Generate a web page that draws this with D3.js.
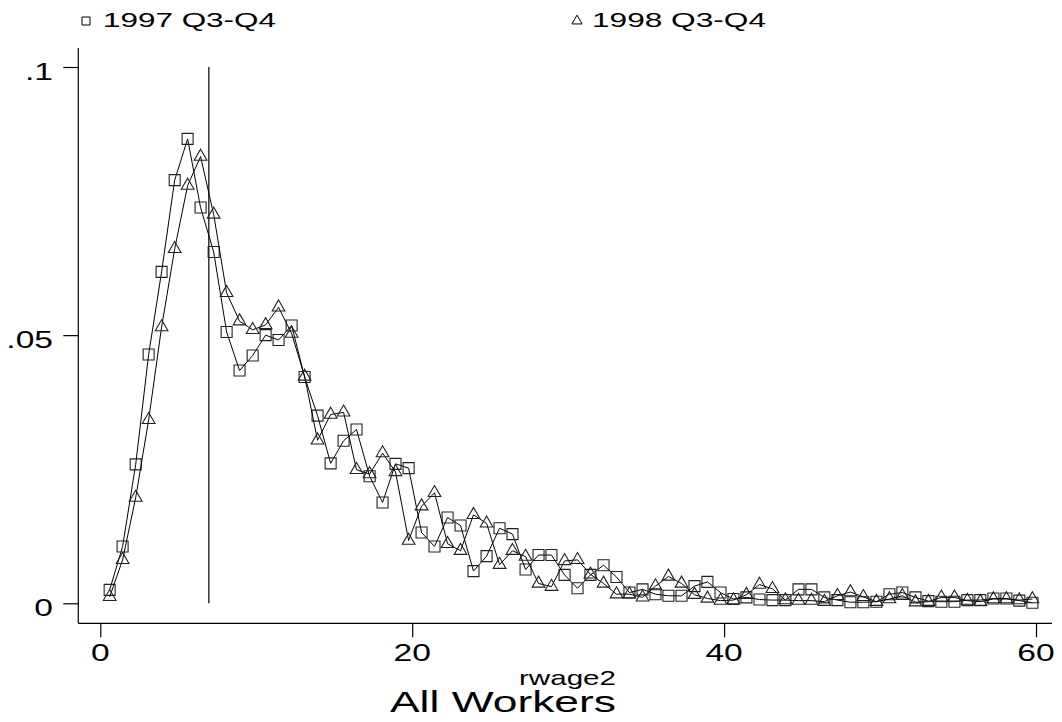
<!DOCTYPE html>
<html><head><meta charset="utf-8">
<script src="https://cdn.jsdelivr.net/npm/d3@7/dist/d3.min.js"></script>
<style>
html,body{margin:0;padding:0;background:#fff;}
svg{display:block;font-family:"Liberation Sans",Arial,sans-serif;}
</style></head>
<body>
<svg id="chart" width="1062" height="722"></svg>
<script>
const seriesNames = ["1997 Q3-Q4", "1998 Q3-Q4"];
const xValues = [0.60,1.43,2.27,3.10,3.93,4.77,5.60,6.43,7.27,8.10,8.93,9.77,
10.60,11.43,12.27,13.10,13.93,14.77,15.60,16.43,17.27,18.10,18.93,19.77,
20.60,21.43,22.27,23.10,23.93,24.77,25.60,26.43,27.27,28.10,28.93,29.77,
30.60,31.43,32.27,33.10,33.93,34.77,35.60,36.43,37.27,38.10,38.93,39.77,
40.60,41.43,42.27,43.10,43.93,44.77,45.60,46.43,47.27,48.10,48.93,49.77,
50.60,51.43,52.27,53.10,53.93,54.77,55.60,56.43,57.27,58.10,58.93,59.77];
const y1997 = [0.0025,0.0106,0.0259,0.0464,0.0618,0.0789,0.0866,0.0738,0.0655,0.0506,0.0434,0.0462,
0.0500,0.0491,0.0518,0.0422,0.0350,0.0261,0.0303,0.0324,0.0237,0.0188,0.0260,0.0252,
0.0132,0.0106,0.0160,0.0145,0.0060,0.0088,0.0140,0.0129,0.0063,0.0090,0.0090,0.0053,
0.0028,0.0053,0.0071,0.0049,0.0020,0.0026,0.0017,0.0014,0.0014,0.0032,0.0040,0.0020,
0.0008,0.0011,0.0007,0.0006,0.0006,0.0026,0.0026,0.0011,0.0006,0.0002,0.0002,0.0003,
0.0017,0.0020,0.0011,0.0004,0.0003,0.0003,0.0006,0.0006,0.0009,0.0009,0.0005,0.0001];
const y1998 = [0.0012,0.0081,0.0197,0.0342,0.0515,0.0661,0.0779,0.0833,0.0725,0.0579,0.0526,0.0510,
0.0519,0.0552,0.0503,0.0423,0.0304,0.0352,0.0356,0.0249,0.0241,0.0280,0.0245,0.0117,
0.0181,0.0206,0.0111,0.0098,0.0165,0.0149,0.0072,0.0098,0.0087,0.0037,0.0031,0.0079,
0.0081,0.0054,0.0037,0.0017,0.0017,0.0011,0.0032,0.0050,0.0037,0.0016,0.0009,0.0005,
0.0006,0.0016,0.0035,0.0027,0.0006,0.0005,0.0005,0.0003,0.0014,0.0021,0.0012,0.0003,
0.0008,0.0014,0.0002,0.0003,0.0011,0.0011,0.0005,0.0003,0.0008,0.0008,0.0006,0.0008];
const refLineX = 6.96;
const xTicks = [0, 20, 40, 60];
const xTickLabels = ["0", "20", "40", "60"];
const yTicks = [0, 0.05, 0.1];
const yTickLabels = ["0", ".05", ".1"];
const xTitle = "rwage2";
const chartTitle = "All Workers";

const svg = d3.select("#chart");
const x = d3.scaleLinear().domain([0, 60]).range([100.3, 1036]);
const y = d3.scaleLinear().domain([0, 0.1]).range([603.3, 67]);
const axisLeftX = 78.3, axisBottomY = 623.3;
const ink = "#000";
const SX = 1.4; // horizontal stretch of the original's lettering

function stretchedText(px, py, str, size, anchor, sx) {
  return svg.append("text")
    .attr("transform", `translate(${px},${py}) scale(${sx},1)`)
    .attr("text-anchor", anchor).attr("font-size", size).attr("fill", ink)
    .text(str);
}

// axis lines
svg.append("line").attr("x1", axisLeftX).attr("x2", axisLeftX)
  .attr("y1", 48).attr("y2", axisBottomY).attr("stroke", ink).attr("stroke-width", 1.2);
svg.append("line").attr("x1", axisLeftX).attr("x2", 1052)
  .attr("y1", axisBottomY).attr("y2", axisBottomY).attr("stroke", ink).attr("stroke-width", 1.2);

// y axis ticks
const gy = svg.append("g").attr("transform", `translate(${axisLeftX},0)`)
  .call(d3.axisLeft(y).tickValues(yTicks).tickSize(15).tickFormat(""));
gy.select(".domain").remove();
gy.selectAll("line").attr("stroke", ink).attr("stroke-width", 1.2);
yTicks.forEach((t, i) => stretchedText(53, y(t) + 12.5, yTickLabels[i], 24, "end", SX));

// x axis ticks
const gx = svg.append("g").attr("transform", `translate(0,${axisBottomY})`)
  .call(d3.axisBottom(x).tickValues(xTicks).tickSize(14).tickFormat(""));
gx.select(".domain").remove();
gx.selectAll("line").attr("stroke", ink).attr("stroke-width", 1.2);
xTicks.forEach((t, i) => stretchedText(x(t), 660.5, xTickLabels[i], 24, "middle", SX));

// titles
svg.append("text").attr("x", 519).attr("y", 685).attr("font-size", 21)
  .attr("textLength", 97).attr("lengthAdjust", "spacingAndGlyphs").text(xTitle);
svg.append("text").attr("x", 390).attr("y", 712).attr("font-size", 30)
  .attr("textLength", 226).attr("lengthAdjust", "spacingAndGlyphs").text(chartTitle);

// reference line
svg.append("line").attr("x1", x(refLineX)).attr("x2", x(refLineX))
  .attr("y1", y(0)).attr("y2", y(0.1)).attr("stroke", ink).attr("stroke-width", 1.2);

const line = d3.line().x((d, i) => x(xValues[i])).y(d => y(d));
const sq = d3.symbol().type(d3.symbolSquare).size(121);
const tri = d3.symbol().type(d3.symbolTriangle).size(70);

function drawSeries(vals, sym) {
  svg.append("path").datum(vals).attr("d", line)
    .attr("fill", "none").attr("stroke", ink).attr("stroke-width", 1);
  svg.append("g").selectAll("path").data(vals).join("path")
    .attr("d", sym)
    .attr("transform", (d, i) => `translate(${x(xValues[i])},${y(d)})`)
    .attr("fill", "none").attr("stroke", "#222").attr("stroke-width", 1.1);
}
drawSeries(y1997, sq);
drawSeries(y1998, tri);

// legend
const legend = [
  {name: seriesNames[0], sym: d3.symbol().type(d3.symbolSquare).size(64), mx: 86, tx: 103, w: 173},
  {name: seriesNames[1], sym: d3.symbol().type(d3.symbolTriangle).size(45), mx: 577, tx: 592, w: 174}
];
legend.forEach(l => {
  svg.append("path").attr("d", l.sym()).attr("transform", `translate(${l.mx},21)`)
    .attr("fill", "none").attr("stroke", ink).attr("stroke-width", 1);
  svg.append("text").attr("x", l.tx).attr("y", 27).attr("font-size", 21)
    .attr("textLength", l.w).attr("lengthAdjust", "spacingAndGlyphs").text(l.name);
});
</script>
</body></html>
